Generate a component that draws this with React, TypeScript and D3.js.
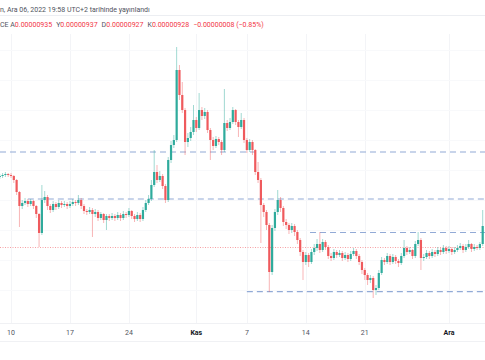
import React, { useEffect, useRef } from 'react';
import * as d3 from 'd3';

// 8h candles, prices in units of 0.00000001
const firstTime = Date.UTC(2022, 9, 8, 16);
const stepMs = 8 * 3600 * 1000;
const firstOpen = 998;

const closes = [
  999, 1000, 1001, 1000, 999, 995, 983, 969, 972, 974, 971, 974, 969, 961, 942, 975, 978, 969, 965, 971,
  968, 972, 970, 971, 969, 971, 973, 972, 975, 969, 964, 963, 965, 961, 963, 957, 961, 955, 959, 957,
  959, 957, 960, 957, 961, 960, 964, 959, 956, 960, 956, 965, 972, 976, 990, 1003, 995, 999, 989, 975,
  1015, 1030, 1035, 1105, 1080, 1065, 1033, 1037, 1043, 1055, 1047, 1065, 1059, 1063, 1045, 1035, 1029, 1036, 1033, 1025,
  1052, 1047, 1053, 1065, 1053, 1048, 1055, 1035, 1025, 1033, 1025, 1003, 995, 970, 963, 950, 903, 947, 963, 975,
  967, 953, 950, 945, 949, 943, 935, 923, 913, 920, 913, 923, 927, 931, 925, 933, 928, 919, 917, 923,
  920, 922, 917, 920, 916, 921, 924, 919, 913, 905, 900, 895, 897, 885, 887, 902, 915, 913, 919, 913,
  918, 914, 912, 919, 927, 923, 925, 919, 931, 935, 917, 918, 922, 919, 923, 921, 925, 923, 927, 924,
  926, 923, 925, 927, 929, 925, 928, 931, 926, 928, 927, 931, 949,
];

const highs = [
  1001, 1002, 1003, 1002, 1002, 1000, 996, 984, 975, 977, 976, 976, 975, 970, 962, 990, 984, 980, 971, 974,
  973, 975, 974, 974, 973, 974, 976, 975, 980, 977, 971, 966, 968, 967, 966, 965, 963, 962, 961, 961,
  962, 961, 963, 962, 964, 963, 967, 965, 961, 963, 962, 968, 975, 980, 995, 1025, 1010, 1004, 1001, 991,
  1018, 1034, 1040, 1128, 1110, 1093, 1067, 1042, 1048, 1070, 1058, 1082, 1068, 1067, 1065, 1047, 1038, 1039, 1038, 1035,
  1086, 1055, 1057, 1068, 1066, 1055, 1062, 1057, 1037, 1036, 1035, 1026, 1013, 997, 972, 965, 952, 950, 966, 985,
  978, 969, 956, 952, 952, 951, 945, 937, 925, 923, 922, 926, 931, 936, 943, 936, 935, 930, 922, 926,
  925, 925, 924, 923, 922, 924, 927, 926, 921, 915, 907, 902, 900, 899, 890, 905, 918, 917, 922, 921,
  921, 920, 916, 922, 935, 929, 928, 926, 934, 943, 937, 921, 925, 924, 926, 925, 928, 927, 930, 929,
  929, 928, 928, 930, 932, 931, 931, 935, 932, 931, 930, 933, 965,
];

const lows = [
  996, 997, 998, 998, 997, 992, 980, 948, 966, 970, 968, 969, 966, 957, 928, 940, 972, 965, 962, 963,
  965, 966, 967, 968, 966, 967, 969, 969, 970, 966, 961, 960, 961, 938, 958, 954, 955, 952, 945, 954,
  955, 954, 955, 954, 955, 957, 958, 956, 953, 954, 953, 954, 963, 970, 974, 988, 992, 993, 986, 972,
  973, 1012, 1027, 1033, 1075, 1062, 1020, 1028, 1034, 1040, 1043, 1045, 1055, 1056, 1042, 1015, 1025, 1027, 1030, 1020,
  1023, 1044, 1045, 1051, 1050, 1038, 1046, 1032, 1022, 1023, 1020, 1000, 992, 932, 958, 945, 883, 900, 944, 960,
  963, 949, 946, 941, 942, 939, 931, 919, 895, 910, 908, 911, 920, 924, 922, 923, 925, 916, 914, 915,
  917, 918, 914, 915, 913, 914, 919, 916, 910, 901, 895, 890, 892, 877, 880, 885, 900, 910, 911, 910,
  911, 911, 908, 910, 917, 920, 921, 916, 917, 929, 905, 914, 916, 916, 917, 918, 919, 920, 921, 921,
  922, 920, 921, 923, 925, 922, 923, 926, 923, 924, 925, 925, 929,
];

// horizontal levels drawn on the chart (price, start date)
const levelPrices = [1023, 976, 942.5, 883.3];
const levelStarts = [
  Date.UTC(2022, 9, 8),
  Date.UTC(2022, 9, 12),
  Date.UTC(2022, 10, 14, 12),
  Date.UTC(2022, 10, 7),
];
const lastPrice = 928;

const gridPrices = [1125, 1095, 1065, 1035, 1005, 975, 945, 915, 885];

const tickDates = [
  Date.UTC(2022, 9, 10), Date.UTC(2022, 9, 17), Date.UTC(2022, 9, 24), Date.UTC(2022, 10, 1),
  Date.UTC(2022, 10, 7), Date.UTC(2022, 10, 14), Date.UTC(2022, 10, 21), Date.UTC(2022, 11, 1),
];
const tickLabels = ['10', '17', '24', 'Kas', '7', '14', '21', 'Ara'];
const monthTicks = ['Kas', 'Ara'];

const headerLine = 'n, Ara 06, 2022 19:58 UTC+2 tarihinde yayınlandı';
const ohlcLabels = ['A', 'Y', 'D', 'K'];
const ohlcValues = ['0.00000935', '0.00000937', '0.00000927', '0.00000928'];
const changeText = '−0.00000008 (−0.85%)';

const App = () => {
  const svgRef = useRef<SVGSVGElement>(null);

  useEffect(() => {
    const width = 485;
    const height = 360;
    const paneBottom = 323;

    const svg = d3.select(svgRef.current)
      .attr('width', width)
      .attr('height', height);
    svg.selectAll('*').remove();

    svg.append('rect').attr('width', width).attr('height', height).attr('fill', '#ffffff');

    const x = d3.scaleUtc()
      .domain([new Date(tickDates[0]), new Date(tickDates[7])])
      .range([11, 449]);
    const y = d3.scaleLinear().domain([875, 1135]).range([300, 40]);

    const font = 'Roboto, "DejaVu Sans", sans-serif';

    // header
    svg.append('text')
      .attr('x', 0).attr('y', 11.5)
      .attr('fill', '#50535e')
      .style('font-family', font).style('font-size', '7px')
      .text(headerLine);
    svg.append('line')
      .attr('x1', 0).attr('x2', width).attr('y1', 15.5).attr('y2', 15.5)
      .attr('stroke', '#eceef2');

    const ohlc = svg.append('text')
      .attr('x', 0).attr('y', 27)
      .style('font-family', font).style('font-size', '7px');
    ohlc.append('tspan').attr('fill', '#50535e').text('CE ');
    ohlcLabels.forEach((l, i) => {
      ohlc.append('tspan').attr('fill', '#50535e').attr('dx', i === 0 ? 0 : 4).text(l);
      ohlc.append('tspan').attr('fill', '#f23645').text(ohlcValues[i]);
    });
    ohlc.append('tspan').attr('fill', '#f23645').attr('dx', 4).text(changeText);

    // grid
    const grid = svg.append('g');
    grid.selectAll('line.v')
      .data(tickDates)
      .join('line')
      .attr('class', 'v')
      .attr('x1', d => Math.round(x(new Date(d))) + 0.5)
      .attr('x2', d => Math.round(x(new Date(d))) + 0.5)
      .attr('y1', 34).attr('y2', paneBottom)
      .attr('stroke', '#f3f4f7');
    grid.selectAll('line.h')
      .data(gridPrices)
      .join('line')
      .attr('class', 'h')
      .attr('x1', 0).attr('x2', width)
      .attr('y1', d => Math.round(y(d)) + 0.5)
      .attr('y2', d => Math.round(y(d)) + 0.5)
      .attr('stroke', '#f8f9fb');

    // levels
    svg.append('g').selectAll('line')
      .data(levelPrices)
      .join('line')
      .attr('x1', (d, i) => Math.max(0, x(new Date(levelStarts[i]))))
      .attr('x2', width)
      .attr('y1', d => y(d)).attr('y2', d => y(d))
      .attr('stroke', '#92aad6')
      .attr('stroke-width', 1.2)
      .attr('stroke-dasharray', '6 4');

    svg.append('line')
      .attr('x1', 0).attr('x2', width)
      .attr('y1', Math.round(y(lastPrice)) + 0.5).attr('y2', Math.round(y(lastPrice)) + 0.5)
      .attr('stroke', '#f6a0a4')
      .attr('stroke-dasharray', '1 1.5');

    // candles
    const candles = closes.map((c, i) => ({
      t: new Date(firstTime + i * stepMs),
      o: i === 0 ? firstOpen : closes[i - 1],
      c,
      h: highs[i],
      l: lows[i],
    }));
    const up = '#2fab9c';
    const down = '#ef5a5d';

    const cg = svg.append('g').selectAll('g')
      .data(candles)
      .join('g');
    cg.append('line')
      .attr('x1', d => x(d.t)).attr('x2', d => x(d.t))
      .attr('y1', d => y(d.h)).attr('y2', d => y(d.l))
      .attr('stroke', d => (d.c >= d.o ? up : down))
      .attr('stroke-opacity', 0.5)
      .attr('stroke-width', 0.9);
    cg.append('rect')
      .attr('x', d => x(d.t) - 1.1)
      .attr('width', 2.2)
      .attr('y', d => y(Math.max(d.o, d.c)))
      .attr('height', d => Math.max(1, Math.abs(y(d.o) - y(d.c))))
      .attr('fill', d => (d.c >= d.o ? up : down));

    // x axis
    svg.append('line')
      .attr('x1', 0).attr('x2', width).attr('y1', paneBottom + 0.5).attr('y2', paneBottom + 0.5)
      .attr('stroke', '#f0f1f4');
    svg.append('line')
      .attr('x1', 0).attr('x2', width).attr('y1', 341.5).attr('y2', 341.5)
      .attr('stroke', '#f0f1f4');
    svg.append('g').selectAll('text')
      .data(tickDates)
      .join('text')
      .attr('x', d => x(new Date(d)))
      .attr('y', 334.5)
      .attr('text-anchor', 'middle')
      .attr('fill', (d, i) => (monthTicks.includes(tickLabels[i]) ? '#131722' : '#50535e'))
      .style('font-family', font)
      .style('font-size', '7px')
      .style('font-weight', (d, i) => (monthTicks.includes(tickLabels[i]) ? 'bold' : 'normal'))
      .text((d, i) => tickLabels[i]);
  }, []);

  return <svg ref={svgRef} style={{ position: 'fixed', left: 0, top: 0 }}></svg>;
};

export default App;
